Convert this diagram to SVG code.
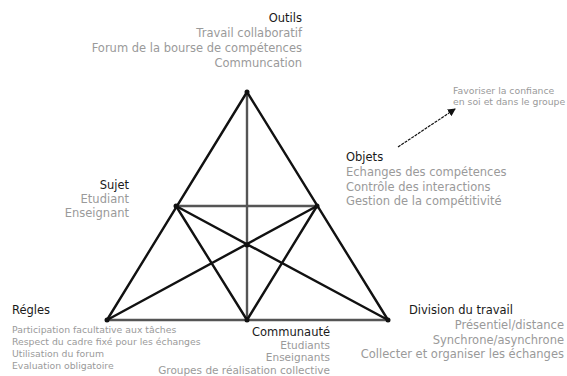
<svg xmlns="http://www.w3.org/2000/svg" width="567" height="376" viewBox="0 0 567 376">
<defs>
<style>
.t{font-family:"DejaVu Sans","Liberation Sans",sans-serif;font-size:11.5px;fill:#1a1a1a}
.b{font-family:"DejaVu Sans","Liberation Sans",sans-serif;font-size:11.5px;fill:#9a9a9a}
.c{font-size:10.5px}
.s{font-family:"DejaVu Sans","Liberation Sans",sans-serif;font-size:9.3px;fill:#9a9a9a}
.r{text-anchor:end}
.k{stroke:#111;stroke-width:2.4;fill:none;stroke-linecap:round}
.g{stroke:#555;stroke-width:2.4;fill:none}
</style>
<marker id="ah" markerWidth="8" markerHeight="8" refX="7" refY="4" orient="auto" markerUnits="userSpaceOnUse">
<path d="M0,0 L8,4 L0,8 z" fill="#111"/>
</marker>
</defs>
<rect width="567" height="376" fill="#fff"/>
<g id="connectors">
<line class="g" x1="247" y1="92" x2="247" y2="319"/>
<line class="g" x1="176" y1="206" x2="317" y2="206"/>
<line class="g" x1="107" y1="320" x2="388" y2="320"/>
<line class="k" x1="247" y1="92" x2="107" y2="320"/>
<line class="k" x1="247" y1="92" x2="388" y2="320"/>
<line class="k" x1="176" y1="206" x2="247" y2="320"/>
<line class="k" x1="317" y1="206" x2="247" y2="320"/>
<line class="k" x1="107" y1="320" x2="317" y2="206"/>
<line class="k" x1="388" y1="320" x2="176" y2="206"/>
<line x1="398" y1="147" x2="455" y2="109" stroke="#111" stroke-width="1.2" stroke-dasharray="3 1" marker-end="url(#ah)"/>
</g>
<g fill="#111">
<circle cx="247" cy="92" r="2.5"/>
<circle cx="176" cy="206" r="2.5"/>
<circle cx="317" cy="206" r="2.5"/>
<circle cx="247" cy="245" r="2.5"/>
<circle cx="107" cy="320" r="2.5"/>
<circle cx="247" cy="320" r="2.5"/>
<circle cx="388" cy="320" r="2.5"/>
</g>
<g id="outils">
<text class="t r" x="302" y="22">Outils</text>
<text class="b r" x="302" y="37">Travail collaboratif</text>
<text class="b r" x="302" y="52">Forum de la bourse de compétences</text>
<text class="b r" x="302" y="67">Communcation</text>
</g>
<g id="favoriser">
<text class="s" x="453" y="94">Favoriser la confiance</text>
<text class="s" x="453" y="105">en soi et dans le groupe</text>
</g>
<g id="objets">
<text class="t" x="346" y="161">Objets</text>
<text class="b" x="346" y="176">Echanges des compétences</text>
<text class="b" x="346" y="191">Contrôle des interactions</text>
<text class="b" x="346" y="205">Gestion de la compétitivité</text>
</g>
<g id="sujet">
<text class="t r" x="129" y="189">Sujet</text>
<text class="b r" x="129" y="203">Etudiant</text>
<text class="b r" x="129" y="217">Enseignant</text>
</g>
<g id="regles">
<text class="t" x="12" y="314">Régles</text>
<text class="s" x="12" y="333">Participation facultative aux tâches</text>
<text class="s" x="12" y="345">Respect du cadre fixé pour les échanges</text>
<text class="s" x="12" y="357">Utilisation du forum</text>
<text class="s" x="12" y="369">Evaluation obligatoire</text>
</g>
<g id="communaute">
<text class="t r" x="330" y="336">Communauté</text>
<text class="b c r" x="330" y="348.5">Etudiants</text>
<text class="b c r" x="330" y="361">Enseignants</text>
<text class="b c r" x="330" y="373.5">Groupes de réalisation collective</text>
</g>
<g id="division">
<text class="t" x="409" y="314">Division du travail</text>
<text class="b r" x="564" y="329">Présentiel/distance</text>
<text class="b r" x="564" y="344">Synchrone/asynchrone</text>
<text class="b r" x="564" y="358">Collecter et organiser les échanges</text>
</g>
</svg>
